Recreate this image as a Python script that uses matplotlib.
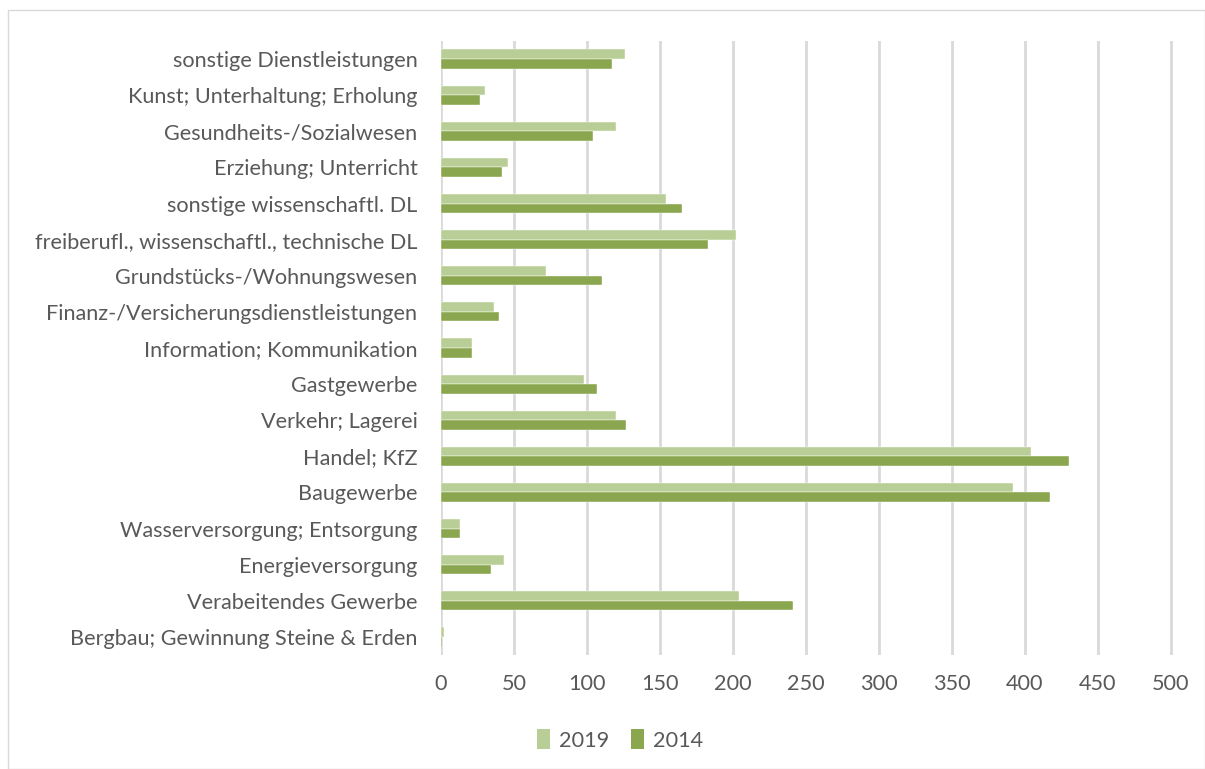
import numpy as np
import matplotlib.pyplot as plt
from matplotlib.patches import Rectangle

# categories from bottom to top
branchen = ['Bergbau; Gewinnung Steine & Erden', 'Verabeitendes Gewerbe', 'Energieversorgung',
            'Wasserversorgung; Entsorgung', 'Baugewerbe', 'Handel; KfZ', 'Verkehr; Lagerei',
            'Gastgewerbe', 'Information; Kommunikation', 'Finanz-/Versicherungsdienstleistungen',
            'Grundstücks-/Wohnungswesen', 'freiberufl., wissenschaftl., technische DL',
            'sonstige wissenschaftl. DL', 'Erziehung; Unterricht', 'Gesundheits-/Sozialwesen',
            'Kunst; Unterhaltung; Erholung', 'sonstige Dienstleistungen']
werte_2019 = [2, 204, 43, 13, 392, 404, 120, 98, 21, 36, 72, 202, 154, 46, 120, 30, 126]
werte_2014 = [1, 241, 34, 13, 417, 430, 127, 107, 21, 40, 110, 183, 165, 42, 104, 27, 117]
xticks = [0, 50, 100, 150, 200, 250, 300, 350, 400, 450, 500]

plt.rcParams['font.family'] = ['Lato', 'DejaVu Sans']
grau = '#595959'
fs = 15.6

fig = plt.figure(figsize=(12.05, 7.69), dpi=100)
ax = fig.add_axes([441/1205, 1-655/769, (1190-441)/1205, (655-41)/769])

y = np.arange(len(branchen))
h = 0.265
ax.barh(y + h/2, werte_2019, height=h, color='#B9CE96', edgecolor='white', linewidth=0.3, label='2019', zorder=3)
ax.barh(y - h/2, werte_2014, height=h, color='#8AA64E', edgecolor='white', linewidth=0.3, label='2014', zorder=3)

ax.set_ylim(-0.5, len(branchen) - 0.5)
ax.set_xlim(0, 500 * (1190-441) / (1171-441))
ax.set_xticks(xticks)
ax.set_yticks(y)
ax.set_yticklabels(branchen)
ax.tick_params(axis='both', length=0, labelsize=fs, labelcolor=grau)
ax.tick_params(axis='y', pad=17)
ax.tick_params(axis='x', pad=14)
ax.grid(axis='x', color='#D9D9D9', linewidth=2, zorder=0)
for s in ax.spines.values():
    s.set_visible(False)

leg = fig.legend(loc='center', bbox_to_anchor=(620/1205, 1-740/769), ncol=2, frameon=False,
                 fontsize=fs, labelcolor=grau, handlelength=0.6, handleheight=1.0,
                 columnspacing=1.0, handletextpad=0.4)
for p in leg.get_patches():
    p.set_linewidth(0)

fig.patches.append(Rectangle((8/1205, 0), 1 - 8/1205, 1 - 10/769, transform=fig.transFigure,
                             fill=False, edgecolor='#D9D9D9', linewidth=1))

fig.savefig('out.png', dpi=100)
